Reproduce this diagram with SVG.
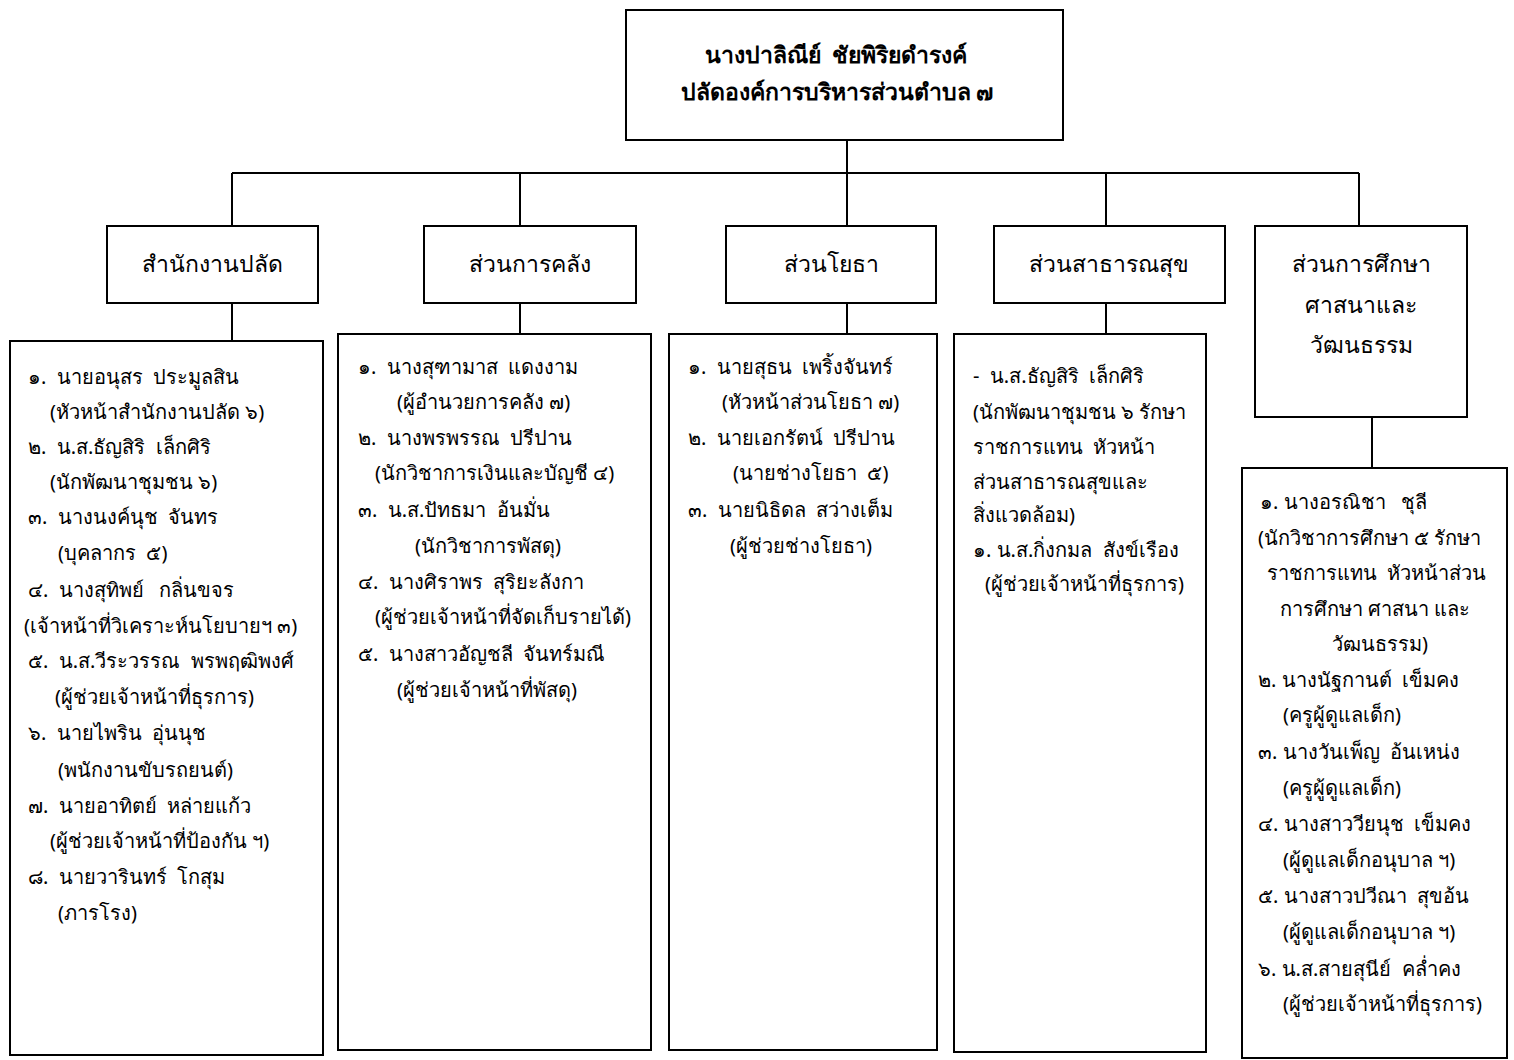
<svg xmlns="http://www.w3.org/2000/svg" width="1514" height="1060" viewBox="0 0 1514 1060">
<style>
text{white-space:pre}
.box{fill:#fff;stroke:#000;stroke-width:2}
.ln{stroke:#000;stroke-width:2;fill:none}
.t{font-family:"Noto Sans","DejaVu Sans",sans-serif;font-size:20px;fill:#000}
.h{font-family:"Noto Sans","DejaVu Sans",sans-serif;font-size:23px;fill:#000;text-anchor:middle}
.top{font-family:"Noto Sans","DejaVu Sans",sans-serif;font-size:23px;font-weight:bold;fill:#000;text-anchor:middle}
</style>
<rect width="1514" height="1060" fill="#fff"/>
<g id="connectors">
<line class="ln" x1="847" y1="140" x2="847" y2="226"/>
<line class="ln" x1="232" y1="173" x2="1359" y2="173"/>
<line class="ln" x1="232" y1="173" x2="232" y2="226"/>
<line class="ln" x1="520" y1="173" x2="520" y2="226"/>
<line class="ln" x1="1106" y1="173" x2="1106" y2="226"/>
<line class="ln" x1="1359" y1="173" x2="1359" y2="226"/>
<line class="ln" x1="232" y1="303" x2="232" y2="341"/>
<line class="ln" x1="520" y1="303" x2="520" y2="340"/>
<line class="ln" x1="847" y1="303" x2="847" y2="334"/>
<line class="ln" x1="1106" y1="303" x2="1106" y2="334"/>
<line class="ln" x1="1372" y1="417" x2="1372" y2="468"/>
</g>
<g id="root">
<rect class="box" x="626" y="10" width="437" height="130"/>
<text class="top" x="836" y="63">นางปาลิณีย์  ชัยพิริยดำรงค์</text>
<text class="top" x="837" y="100">ปลัดองค์การบริหารส่วนตำบล ๗</text>
</g>
<g id="dept1">
<rect class="box" x="107" y="226" width="211" height="77"/>
<text class="h" x="212" y="272">สำนักงานปลัด</text>
</g>
<g id="dept2">
<rect class="box" x="424" y="226" width="212" height="77"/>
<text class="h" x="530" y="272">ส่วนการคลัง</text>
</g>
<g id="dept3">
<rect class="box" x="726" y="226" width="210" height="77"/>
<text class="h" x="831" y="272">ส่วนโยธา</text>
</g>
<g id="dept4">
<rect class="box" x="994" y="226" width="231" height="77"/>
<text class="h" x="1109" y="272">ส่วนสาธารณสุข</text>
</g>
<g id="dept5">
<rect class="box" x="1255" y="226" width="212" height="191"/>
<text class="h" x="1361" y="272">ส่วนการศึกษา</text>
<text class="h" x="1361" y="313">ศาสนาและ</text>
<text class="h" x="1361" y="353">วัฒนธรรม</text>
</g>
<g id="staff1">
<rect class="box" x="10" y="341" width="313" height="714"/>
<text class="t" x="28" y="384">๑.  นายอนุสร  ประมูลสิน</text>
<text class="t" x="50" y="419">(หัวหน้าสำนักงานปลัด ๖)</text>
<text class="t" x="28" y="454">๒.  น.ส.ธัญสิริ  เล็กศิริ</text>
<text class="t" x="50" y="489">(นักพัฒนาชุมชน ๖)</text>
<text class="t" x="28" y="524">๓.  นางนงค์นุช  จันทร</text>
<text class="t" x="58" y="560">(บุคลากร  ๕)</text>
<text class="t" x="28" y="597">๔.  นางสุทิพย์   กลิ่นขจร</text>
<text class="t" x="24" y="633">(เจ้าหน้าที่วิเคราะห์นโยบายฯ ๓)</text>
<text class="t" x="28" y="668">๕.  น.ส.วีระวรรณ  พรพฤฒิพงศ์</text>
<text class="t" x="55" y="704">(ผู้ช่วยเจ้าหน้าที่ธุรการ)</text>
<text class="t" x="28" y="740">๖.  นายไพริน  อุ่นนุช</text>
<text class="t" x="58" y="777">(พนักงานขับรถยนต์)</text>
<text class="t" x="28" y="813">๗.  นายอาทิตย์  หล่ายแก้ว</text>
<text class="t" x="50" y="848">(ผู้ช่วยเจ้าหน้าที่ป้องกัน ฯ)</text>
<text class="t" x="28" y="884">๘.  นายวารินทร์  โกสุม</text>
<text class="t" x="58" y="920">(ภารโรง)</text>
</g>
<g id="staff2">
<rect class="box" x="338" y="334" width="313" height="716"/>
<text class="t" x="358" y="374">๑.  นางสุฑามาส  แดงงาม</text>
<text class="t" x="397" y="409">(ผู้อำนวยการคลัง ๗)</text>
<text class="t" x="358" y="445">๒.  นางพรพรรณ  ปรีปาน</text>
<text class="t" x="375" y="480">(นักวิชาการเงินและบัญชี ๔)</text>
<text class="t" x="358" y="517">๓.  น.ส.ปัทธมา  อ้นมั่น</text>
<text class="t" x="415" y="553">(นักวิชาการพัสดุ)</text>
<text class="t" x="358" y="589">๔.  นางศิราพร  สุริยะลังกา</text>
<text class="t" x="375" y="624">(ผู้ช่วยเจ้าหน้าที่จัดเก็บรายได้)</text>
<text class="t" x="358" y="661">๕.  นางสาวอัญชลี  จันทร์มณี</text>
<text class="t" x="397" y="697">(ผู้ช่วยเจ้าหน้าที่พัสดุ)</text>
</g>
<g id="staff3">
<rect class="box" x="669" y="334" width="268" height="716"/>
<text class="t" x="688" y="374">๑.  นายสุธน  เพริ้งจันทร์</text>
<text class="t" x="722" y="409">(หัวหน้าส่วนโยธา ๗)</text>
<text class="t" x="688" y="445">๒.  นายเอกรัตน์  ปรีปาน</text>
<text class="t" x="733" y="480">(นายช่างโยธา  ๕)</text>
<text class="t" x="688" y="517">๓.  นายนิธิดล  สว่างเต็ม</text>
<text class="t" x="730" y="553">(ผู้ช่วยช่างโยธา)</text>
</g>
<g id="staff4">
<rect class="box" x="954" y="334" width="252" height="718"/>
<text class="t" x="973" y="383">-  น.ส.ธัญสิริ  เล็กศิริ</text>
<text class="t" x="973" y="419">(นักพัฒนาชุมชน ๖ รักษา</text>
<text class="t" x="973" y="454">ราชการแทน  หัวหน้า</text>
<text class="t" x="973" y="489">ส่วนสาธารณสุขและ</text>
<text class="t" x="973" y="522">สิ่งแวดล้อม)</text>
<text class="t" x="973" y="557">๑. น.ส.กิ่งกมล  สังข์เรือง</text>
<text class="t" x="985" y="591">(ผู้ช่วยเจ้าหน้าที่ธุรการ)</text>
</g>
<g id="staff5">
<rect class="box" x="1242" y="468" width="265" height="590"/>
<text class="t" x="1260" y="509">๑. นางอรณิชา   ชุลี</text>
<text class="t" x="1258" y="545">(นักวิชาการศึกษา ๕ รักษา</text>
<text class="t" x="1267" y="580">ราชการแทน  หัวหน้าส่วน</text>
<text class="t" x="1280" y="616">การศึกษา ศาสนา และ</text>
<text class="t" x="1332" y="651">วัฒนธรรม)</text>
<text class="t" x="1258" y="687">๒. นางนัฐกานต์  เข็มคง</text>
<text class="t" x="1283" y="722">(ครูผู้ดูแลเด็ก)</text>
<text class="t" x="1258" y="759">๓. นางวันเพ็ญ  อ้นเหน่ง</text>
<text class="t" x="1283" y="795">(ครูผู้ดูแลเด็ก)</text>
<text class="t" x="1258" y="831">๔. นางสาววียนุช  เข็มคง</text>
<text class="t" x="1283" y="867">(ผู้ดูแลเด็กอนุบาล ฯ)</text>
<text class="t" x="1258" y="903">๕. นางสาวปวีณา  สุขอ้น</text>
<text class="t" x="1283" y="939">(ผู้ดูแลเด็กอนุบาล ฯ)</text>
<text class="t" x="1258" y="976">๖. น.ส.สายสุนีย์  คล่ำคง</text>
<text class="t" x="1283" y="1011">(ผู้ช่วยเจ้าหน้าที่ธุรการ)</text>
</g>
</svg>
